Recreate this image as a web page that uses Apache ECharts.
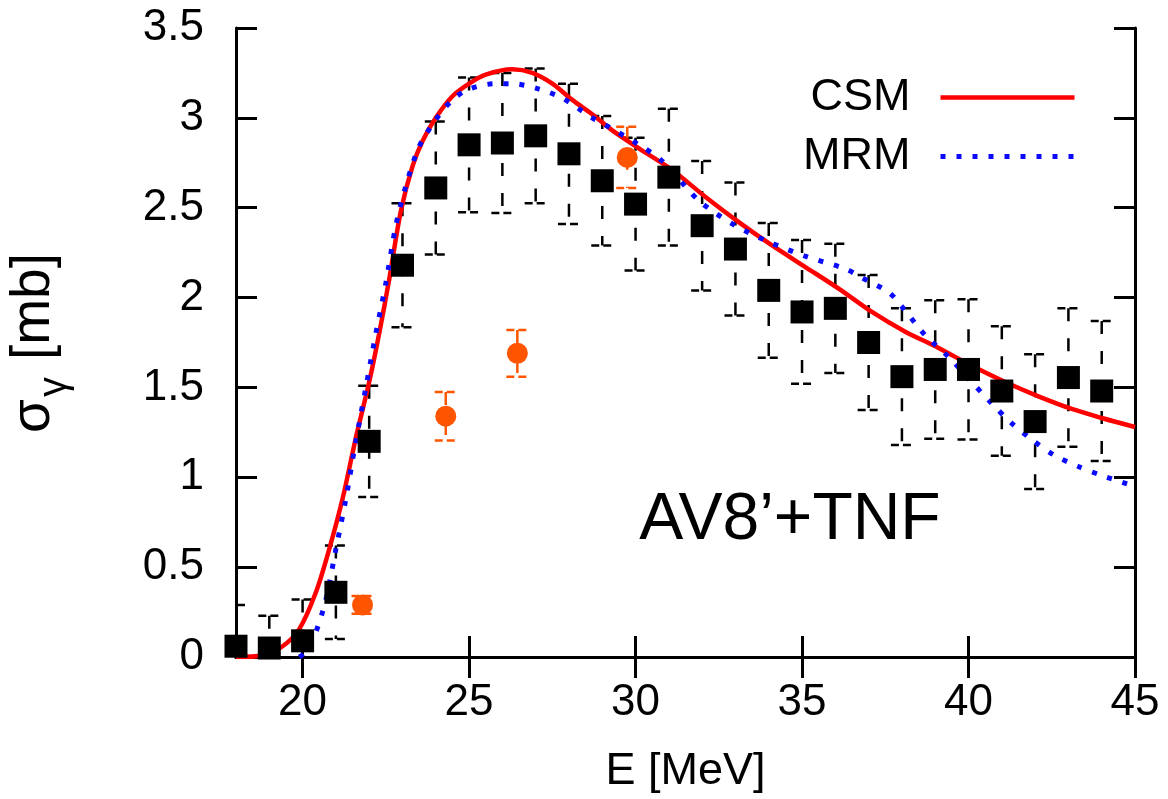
<!DOCTYPE html>
<html>
<head>
<meta charset="utf-8">
<script src="https://cdn.jsdelivr.net/npm/echarts@6/dist/echarts.min.js"></script>
<style>
html,body{margin:0;padding:0;background:#fff;}
#chart{width:1168px;height:799px;}
</style>
</head>
<body>
<div id="chart"></div>
<script>
// ---- data ----
const E_exp   = [18,19,20,21,22,23,24,25,26,27,28,29,30,31,32,33,34,35,36,37,38,39,40,41,42,43,44];
const sig_exp = [0.06,0.05,0.09,0.36,1.2,2.18,2.61,2.85,2.86,2.9,2.8,2.65,2.52,2.67,2.4,2.27,2.04,1.92,1.94,1.75,1.56,1.6,1.6,1.48,1.31,1.555,1.48];
const err_exp = [0.23,0.18,0.23,0.26,0.31,0.345,0.37,0.375,0.39,0.375,0.39,0.36,0.37,0.38,0.36,0.37,0.375,0.4,0.36,0.375,0.38,0.385,0.39,0.36,0.375,0.385,0.39];

const E_orange   = [21.8, 24.3, 26.45, 29.75];
const sig_orange = [0.29, 1.34, 1.69, 2.78];
const err_orange = [0.05, 0.135, 0.13, 0.17];

const E_csm   = [18.0,18.8,19.4,19.9,20.4,20.8,21.2,21.6,22.0,22.3,22.6,22.95,23.3,23.6,24.0,24.5,25.0,25.5,26.3,26.9,27.5,28.1,28.7,29.3,30.1,31.1,32.1,33.1,34.1,35.1,36.1,37.1,38.1,39.1,40.1,41.1,42.1,43.1,44.0,45.0];
const sig_csm = [0.0,0.01,0.06,0.155,0.36,0.6,0.88,1.22,1.53,1.8,2.1,2.48,2.73,2.87,3.0,3.12,3.19,3.24,3.27,3.25,3.19,3.1,3.02,2.93,2.83,2.71,2.56,2.42,2.29,2.17,2.05,1.92,1.81,1.72,1.62,1.53,1.45,1.38,1.33,1.28];

const E_mrm   = [19.9,20.1,20.4,20.7,21.0,21.3,21.56,21.9,22.2,22.5,22.8,23.1,23.5,24.0,24.5,25.0,25.8,26.3,27.1,27.8,28.7,29.1,30.1,30.8,31.9,33.0,34.0,35.1,36.3,36.8,37.6,38.0,38.7,39.4,40.0,40.7,41.3,41.9,42.6,43.3,44.0,45.0];
const sig_mrm = [0.0,0.03,0.14,0.32,0.6,0.88,1.16,1.5,1.8,2.08,2.4,2.62,2.84,2.99,3.1,3.16,3.19,3.19,3.16,3.11,3.0,2.96,2.85,2.76,2.54,2.4,2.31,2.23,2.16,2.11,2.03,1.95,1.79,1.67,1.55,1.41,1.3,1.21,1.12,1.06,1.01,0.95];

const xTicks = [20,25,30,35,40,45];
const seriesNames = ['CSM','MRM'];
const modelLabel = 'AV8\u2019+TNF';

// ---- build ----
const FONT = "'Liberation Sans', Arial, sans-serif";
const zip = (a,b) => a.map((v,i)=>[v,b[i]]);
const errData = (E,s,e) => E.map((v,i)=>[v, s[i]-e[i], s[i]+e[i]]);

function errRender(color){
  return function(params, api){
    const x = api.value(0);
    const lo = api.coord([x, api.value(1)]);
    const hi = api.coord([x, api.value(2)]);
    const hw = 11;
    const st = {stroke: color, lineWidth: 2.5, lineDash: [13, 17], fill: null};
    const cs = {stroke: color, lineWidth: 2.5, lineDash: [8, 4], fill: null};
    return {
      type: 'group',
      children: [
        {type:'line', shape:{x1:hi[0], y1:hi[1], x2:lo[0], y2:lo[1]}, style: st},
        {type:'line', shape:{x1:hi[0]-hw, y1:hi[1], x2:hi[0]+hw, y2:hi[1]}, style: cs},
        {type:'line', shape:{x1:lo[0]-hw, y1:lo[1], x2:lo[0]+hw, y2:lo[1]}, style: cs}
      ]
    };
  };
}

const RED = '#ff0000', BLUE = '#0a0aff', ORANGE = '#ff5500';
const csmLine = {color: RED, width: 4.5, type: 'solid'};
const mrmLine = {color: BLUE, width: 5, type: [5, 11], cap: 'butt'};

const chart = echarts.init(document.getElementById('chart'), null, {renderer:'canvas'});
const axisLine = {show:true, lineStyle:{color:'#000', width:3}};
const tickStyle = {color:'#000', width:3};

chart.setOption({
  animation: false,
  backgroundColor: '#fff',
  grid: {left: 236, right: 33, top: 28, bottom: 140, containLabel: false},
  xAxis: [{
    type: 'value', min: 18, max: 45, position: 'bottom',
    axisLine: axisLine,
    axisTick: {show:true, inside:true, length:21, lineStyle: tickStyle, customValues: xTicks},
    axisLabel: {show:true, customValues: xTicks, fontSize: 44, fontFamily: FONT, color:'#000', margin: 24},
    splitLine: {show:false},
    name: 'E [MeV]', nameLocation: 'middle', nameGap: 92,
    nameTextStyle: {fontSize: 45, fontFamily: FONT, color:'#000'}
  },{
    type: 'value', min: 18, max: 45, position: 'top',
    axisLine: axisLine,
    axisTick: {show:true, inside:true, length:21, lineStyle: tickStyle, customValues: xTicks},
    axisLabel: {show:false},
    splitLine: {show:false}
  }],
  yAxis: [{
    type: 'value', min: 0, max: 3.5, interval: 0.5, position: 'left',
    axisLine: axisLine,
    axisTick: {show:true, inside:true, length:21, lineStyle: tickStyle},
    axisLabel: {show:true, fontSize: 44, fontFamily: FONT, color:'#000', margin: 32},
    splitLine: {show:false}
  },{
    type: 'value', min: 0, max: 3.5, interval: 0.5, position: 'right',
    axisLine: axisLine,
    axisTick: {show:true, inside:true, length:21, lineStyle: tickStyle},
    axisLabel: {show:false},
    splitLine: {show:false}
  }],
  legend: {
    data: [
      {name: seriesNames[0], lineStyle: csmLine, itemStyle: {opacity: 0}},
      {name: seriesNames[1], lineStyle: mrmLine, itemStyle: {opacity: 0}}
    ],
    orient: 'vertical', align: 'right',
    right: 91, top: 75, padding: 0,
    itemWidth: 134, itemHeight: 20, itemGap: 14,
    selectedMode: false,
    itemStyle: {opacity: 0},
    textStyle: {fontSize: 45, fontFamily: FONT, color:'#000', padding: [0, 25, 0, 0]}
  },
  graphic: [
    {
      type: 'text', x: 790, y: 521, z: 100,
      style: {text: modelLabel, fontSize: 66, fontFamily: FONT, fill:'#000', textAlign:'center', textVerticalAlign:'middle'}
    },
    {
      type: 'group', x: 0, y: 343, rotation: Math.PI/2, z: 100,
      children: [
        {type:'text', style:{text:'\u03c3', x:-90, y:34, fontSize:55, fontFamily:FONT, fill:'#000', textAlign:'left', textVerticalAlign:'middle'}},
        {type:'text', style:{text:'\u03b3', x:-54, y:55, fontSize:40, fontFamily:FONT, fill:'#000', textAlign:'left', textVerticalAlign:'middle'}},
        {type:'text', style:{text:'[mb]', x:-17, y:34, fontSize:55, fontFamily:FONT, fill:'#000', textAlign:'left', textVerticalAlign:'middle'}}
      ]
    }
  ],
  series: [
    {
      type: 'custom', name: 'errExp', clip: true, z: 1, silent: true,
      renderItem: errRender('#000'),
      encode: {x: 0, y: [1, 2]},
      data: errData(E_exp, sig_exp, err_exp)
    },
    {
      type: 'custom', name: 'errOrange', clip: true, z: 1, silent: true,
      renderItem: errRender(ORANGE),
      encode: {x: 0, y: [1, 2]},
      data: errData(E_orange, sig_orange, err_orange)
    },
    {
      type: 'line', name: 'CSM', z: 2, showSymbol: false, symbol: 'none',
      smooth: 0.3,
      lineStyle: csmLine,
      itemStyle: {color: RED},
      data: zip(E_csm, sig_csm)
    },
    {
      type: 'line', name: 'MRM', z: 3, showSymbol: false, symbol: 'none',
      smooth: 0.3,
      lineStyle: mrmLine,
      itemStyle: {color: BLUE},
      data: zip(E_mrm, sig_mrm)
    },
    {
      type: 'scatter', name: 'exp', z: 4, symbol: 'rect', symbolSize: 23,
      itemStyle: {color: '#000', opacity: 1},
      data: zip(E_exp, sig_exp)
    },
    {
      type: 'scatter', name: 'orange', z: 4, symbol: 'circle', symbolSize: 21,
      itemStyle: {color: ORANGE, opacity: 1},
      data: zip(E_orange, sig_orange)
    }
  ]
});
</script>
</body>
</html>
